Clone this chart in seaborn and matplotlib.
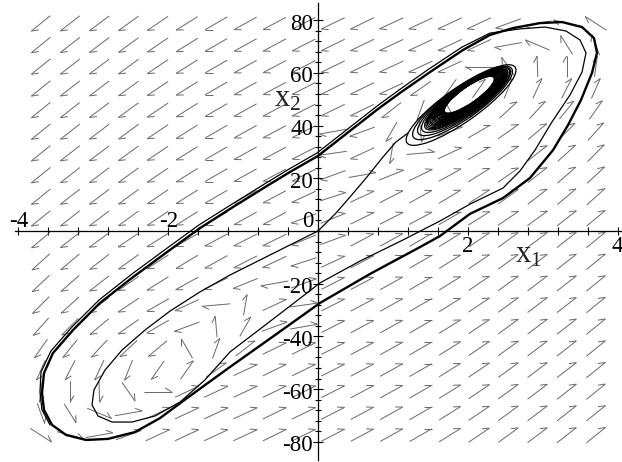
import numpy as np
import pandas as pd
import matplotlib
matplotlib.use("Agg")
import matplotlib.pyplot as plt
import seaborn as sns
from matplotlib.collections import LineCollection
from matplotlib.patches import Ellipse
from matplotlib.transforms import Affine2D

sns.set_theme(style="white")
plt.rcParams["font.family"] = ["Liberation Serif", "DejaVu Serif"]
plt.rcParams["mathtext.fontset"] = "custom"
plt.rcParams["mathtext.rm"] = "Liberation Serif"
plt.rcParams["mathtext.it"] = "Liberation Serif:italic"

# ---------------------------------------------------------------- data
# direction-field grid (x1 columns, x2 rows from top to bottom)
FIELD_X1 = [-3.70, -3.31, -2.92, -2.53, -2.14, -1.75, -1.36, -0.97, -0.58, -0.19,
            0.20, 0.59, 0.98, 1.37, 1.76, 2.15, 2.54, 2.93, 3.32, 3.71]
FIELD_X2 = [78.8, 70.6, 62.4, 54.1, 45.9, 37.7, 29.5, 21.2, 13.0, 4.8,
            -3.4, -11.7, -19.9, -28.1, -36.3, -44.6, -52.8, -61.0, -69.2, -77.5]
# on-screen arrow direction in degrees, one row per FIELD_X2 value
FIELD_ANGLE = [
    [219, 218, 217, 216, 214, 212, 210, 209, 208, 207, 206, 206, 205, 205, 205, 205, 200, 190, 165, 147],
    [219, 218, 217, 216, 214, 212, 210, 209, 208, 207, 206, 206, 205, 205, 205, 205, 190, 157, 122, 110],
    [219, 218, 217, 216, 214, 212, 210, 209, 208, 207, 206, 206, 205, 205, 205, 180, 125, 92, 90, 82],
    [219, 218, 217, 216, 214, 212, 210, 209, 208, 207, 206, 206, 205, 215, 235, 55, 68, 65, 63, 66],
    [219, 218, 217, 216, 214, 212, 210, 209, 208, 207, 206, 206, 218, 250, 300, 40, 43, 47, 51, 55],
    [219, 218, 217, 216, 214, 212, 210, 209, 208, 207, 190, 200, 240, 275, 20, 30, 35, 40, 45, 48],
    [219, 218, 217, 216, 214, 212, 210, 209, 208, 207, 188, 205, 260, 5, 25, 30, 34, 38, 42, 45],
    [219, 218, 217, 216, 214, 212, 210, 209, 208, 207, 200, 10, 22, 26, 29, 32, 35, 38, 41, 43],
    [219, 218, 217, 216, 214, 212, 210, 209, 208, 205, 18, 25, 27, 29, 31, 33, 36, 38, 40, 42],
    [219, 218, 217, 216, 214, 212, 210, 209, 208, 200, 22, 26, 27, 28, 30, 32, 34, 36, 38, 40],
    [220, 218, 216, 214, 212, 210, 208, 207, 206, 202, 20, 28, 29, 30, 32, 34, 36, 37, 38, 39],
    [222, 220, 218, 216, 213, 211, 209, 207, 205, 198, 25, 28, 29, 30, 32, 34, 36, 37, 38, 39],
    [223, 221, 218, 215, 212, 209, 206, 202, 190, 20, 27, 28, 29, 30, 32, 34, 36, 37, 38, 39],
    [225, 222, 218, 214, 210, 205, 185, 80, 25, 8, 27, 28, 29, 30, 32, 34, 36, 37, 38, 39],
    [228, 225, 220, 215, 210, 200, 95, 60, 20, 10, 27, 28, 29, 30, 32, 34, 36, 37, 38, 39],
    [235, 231, 227, 223, 220, 120, 70, 38, 26, 26, 27, 28, 29, 30, 32, 34, 36, 37, 38, 39],
    [246, 243, 245, 248, 235, 55, 35, 25, 26, 26, 27, 28, 29, 30, 32, 34, 36, 37, 38, 39],
    [262, 270, 272, 305, 0, 25, 25, 25, 26, 26, 27, 28, 29, 30, 32, 34, 36, 37, 38, 39],
    [290, 302, 337, 10, 25, 25, 25, 25, 26, 26, 27, 28, 29, 30, 32, 34, 36, 37, 38, 39],
    [327, 345, 10, 20, 25, 25, 25, 25, 26, 26, 27, 28, 29, 30, 32, 34, 36, 37, 38, 39],
]

# large closed orbit (traversed repeatedly)
CYCLE_X1 = [-3.685, -3.658, -3.551, -3.364, -3.097, -2.804, -2.443, -2.109, -1.709, -1.175,
            -0.574, 0.027, 0.694, 1.362, 1.629, 2.029, 2.470, 2.830, 3.138, 3.338,
            3.511, 3.658, 3.725, 3.685, 3.525, 3.258, 2.964, 2.603, 2.296, 1.936,
            1.495, 1.095, 0.801, 0.427, 0.000, -0.374, -0.681, -1.135, -1.575, -2.016,
            -2.470, -2.911, -3.271, -3.538, -3.658, -3.685]
CYCLE_X2 = [-61.5, -67.9, -73.6, -77.4, -79.3, -78.9, -76.3, -71.0, -62.6, -51.6,
            -39.5, -27.3, -16.3, -6.1, -1.9, 6.5, 12.5, 20.1, 30.7, 40.2,
            49.7, 60.0, 67.6, 73.2, 77.4, 79.3, 78.9, 77.0, 74.4, 68.7,
            60.3, 52.4, 46.3, 38.0, 28.5, 22.4, 17.1, 9.1, 1.1, -8.0,
            -17.5, -27.3, -37.6, -46.3, -53.9, -61.5]

# orbit leaving the origin towards the lower left
LOWER_X1 = [0.000, -0.374, -0.774, -1.175, -1.575, -1.976, -2.310, -2.617, -2.844, -2.991,
            -3.017, -2.937, -2.750, -2.483, -2.176, -1.842, -1.509, -1.175, -0.774, -0.374,
            0.027, 0.561, 1.135, 1.629, 2.029, 2.470, 2.697, 2.897, 3.124, 3.364,
            3.525, 3.578, 3.498, 3.311, 3.031, 2.697, 2.296, 1.923, 1.482, 1.081,
            0.788, 0.414, -0.013, -0.387, -0.694, -1.148, -1.589, -2.029, -2.483, -2.924,
            -3.284, -3.565, -3.698, -3.712, -3.685, -3.578]
LOWER_X2 = [0.0, -5.3, -11.0, -16.7, -23.1, -30.4, -37.6, -45.2, -52.8, -60.3,
            -66.0, -70.2, -72.5, -72.5, -70.2, -64.9, -56.5, -45.9, -37.2, -28.5,
            -19.7, -11.4, -3.4, 3.8, 10.2, 16.3, 22.8, 30.7, 41.4, 51.6,
            60.3, 67.6, 72.5, 75.9, 77.4, 76.7, 75.1, 69.8, 61.5, 53.5,
            47.4, 39.1, 29.6, 23.5, 18.2, 10.2, 2.3, -6.8, -16.3, -26.2,
            -36.4, -45.5, -53.5, -61.1, -67.9, -73.6]

# orbit leaving the origin towards the upper right
UPPER_X1 = [0.000, 0.107, 0.240, 0.427, 0.654, 0.868, 1.041, 1.202]
UPPER_X2 = [0.0, 3.0, 6.8, 12.9, 20.5, 28.1, 33.8, 37.2]

# successive turns of the spiral around (2, 51): centre, half-axes (x1 units)
SPIRAL_X1C = [1.91, 1.93, 1.95, 1.97,
              1.980, 1.985, 1.990, 1.995, 2.000, 2.000, 2.005, 2.010, 2.010, 2.010, 2.015,
              2.015, 2.020, 2.020, 2.020, 2.020, 2.020, 2.020, 2.020, 2.020, 2.020, 2.020]
SPIRAL_X2C = [47.8, 48.6, 49.2, 49.7,
              50.0, 50.2, 50.4, 50.6, 50.7, 50.8, 50.9, 51.0, 51.1, 51.2, 51.3,
              51.3, 51.4, 51.4, 51.5, 51.5, 51.6, 51.6, 51.6, 51.7, 51.7, 51.7]
SPIRAL_A = [0.881, 0.800, 0.745, 0.705,
            0.668, 0.652, 0.637, 0.622, 0.607, 0.592, 0.577, 0.562, 0.548, 0.534, 0.520,
            0.506, 0.492, 0.479, 0.466, 0.454, 0.442, 0.431, 0.421, 0.412, 0.405, 0.400]
SPIRAL_B = [0.227, 0.212, 0.200, 0.190,
            0.180, 0.176, 0.172, 0.168, 0.164, 0.160, 0.156, 0.152, 0.148, 0.144, 0.140,
            0.137, 0.133, 0.129, 0.126, 0.123, 0.119, 0.116, 0.114, 0.111, 0.109, 0.108]
SPIRAL_TILT = 35.0

X_TICK_LABELS = [-4, -2, 2, 4]
Y_TICK_LABELS = [-80, -60, -40, -20, 0, 20, 40, 60, 80]

# ---------------------------------------------------------------- figure
W, H, DPI = 622, 462, 100
fig = plt.figure(figsize=(W / DPI, H / DPI), dpi=DPI)
X_LIM = (-4.04, 4.06)
Y_LIM = (-87.0, 86.5)
PX_X0, PX_PER_X1 = 318.0, 74.9
PY_Y0, PX_PER_X2 = 231.0, 2.635
lpx = PX_X0 + PX_PER_X1 * X_LIM[0]
rpx = PX_X0 + PX_PER_X1 * X_LIM[1]
tpy = PY_Y0 - PX_PER_X2 * Y_LIM[1]
bpy = PY_Y0 - PX_PER_X2 * Y_LIM[0]
ax = fig.add_axes([lpx / W, 1 - bpy / H, (rpx - lpx) / W, (bpy - tpy) / H])
ax.set_xlim(*X_LIM)
ax.set_ylim(*Y_LIM)
ax.set_autoscale_on(False)
ax.set_facecolor("white")
ax.patch.set_alpha(0)

for side in ("top", "right"):
    ax.spines[side].set_visible(False)
for side in ("left", "bottom"):
    ax.spines[side].set_position(("data", 0))
    ax.spines[side].set_color("black")
    ax.spines[side].set_linewidth(0.9)
    ax.spines[side].set_zorder(1)

ax.set_xticks(np.round(np.arange(-4.0, 4.01, 0.4), 2))
ax.set_yticks(np.arange(-80, 81, 20))
ax.set_yticks(np.arange(-80, 81, 4), minor=True)
ax.tick_params(axis="x", which="major", direction="inout", length=5.5, width=0.8,
               color="black", labelbottom=False, bottom=True)
ax.tick_params(axis="y", which="major", direction="inout", length=7.5, width=0.8,
               color="black", labelleft=False, left=True)
ax.tick_params(axis="y", which="minor", direction="inout", length=5.0, width=0.8,
               color="black", left=True)
ax.grid(False)

def pt(px):
    return px * 72.0 / DPI

TICK_FS = 16.5
for v in X_TICK_LABELS:
    dy = 4 if v < 0 else -21
    ax.annotate(str(v), xy=(v, 0), xytext=(0, pt(dy)), textcoords="offset points",
                ha="center", va="baseline", fontsize=TICK_FS, color="black")
for v in Y_TICK_LABELS:
    dy = 4 if v == 0 else -9.5
    ax.annotate(str(v), xy=(0, v), xytext=(pt(-5), pt(dy)), textcoords="offset points",
                ha="right", va="baseline", fontsize=TICK_FS, color="black")

ax.text(-0.59, 47.4, r"$\mathregular{x_2}$", fontsize=22, ha="left", va="baseline")
ax.text(2.63, -12.1, r"$\mathregular{x_1}$", fontsize=22, ha="left", va="baseline")

# ---------------------------------------------------------------- direction field
to_disp = ax.transData
to_data = ax.transData.inverted()
LEN_X, LEN_Y = 28.0, 21.0      # arrow length (px) for horizontal / vertical arrows
BARB_LEN, BARB_TURN = 7.5, 150.0
segs = []
for r, x2v in enumerate(FIELD_X2):
    for c, x1v in enumerate(FIELD_X1):
        th = np.deg2rad(FIELD_ANGLE[r][c])
        d = np.array([np.cos(th), np.sin(th)])
        L = 1.0 / np.hypot(d[0] / LEN_X, d[1] / LEN_Y)
        ctr = to_disp.transform((x1v, x2v))
        tail = ctr - 0.5 * L * d
        head = ctr + 0.5 * L * d
        tb = th + np.deg2rad(BARB_TURN)
        barb = head + BARB_LEN * np.array([np.cos(tb), np.sin(tb)])
        segs.append(to_data.transform([tail, head]))
        segs.append(to_data.transform([head, barb]))
ax.add_collection(LineCollection(segs, colors="#686868", linewidths=0.7, zorder=2))

# ---------------------------------------------------------------- trajectories
cycle = pd.DataFrame({"x1": CYCLE_X1, "x2": CYCLE_X2})
lower = pd.DataFrame({"x1": LOWER_X1, "x2": LOWER_X2})
upper = pd.DataFrame({"x1": UPPER_X1, "x2": UPPER_X2})
sns.lineplot(data=cycle, x="x1", y="x2", sort=False, estimator=None, color="black",
             lw=1.7, ax=ax, zorder=3)
sns.lineplot(data=lower, x="x1", y="x2", sort=False, estimator=None, color="black",
             lw=0.9, ax=ax, zorder=3)
sns.lineplot(data=upper, x="x1", y="x2", sort=False, estimator=None, color="black",
             lw=0.9, ax=ax, zorder=3)

p0 = to_disp.transform((0, 0))
s = (to_disp.transform((1, 0))[0] - p0[0]) / (to_disp.transform((0, 1))[1] - p0[1])
iso = Affine2D().scale(1.0, s) + ax.transData
for cx, cy, a, b in zip(SPIRAL_X1C, SPIRAL_X2C, SPIRAL_A, SPIRAL_B):
    ax.add_patch(Ellipse((cx, cy / s), 2 * a, 2 * b, angle=SPIRAL_TILT, transform=iso,
                         fill=False, ec="black", lw=0.9, zorder=3))

ax.set_xlabel("")
ax.set_ylabel("")
ax.set_xlim(*X_LIM)
ax.set_ylim(*Y_LIM)
fig.savefig("out.png", dpi=DPI, facecolor="white")
